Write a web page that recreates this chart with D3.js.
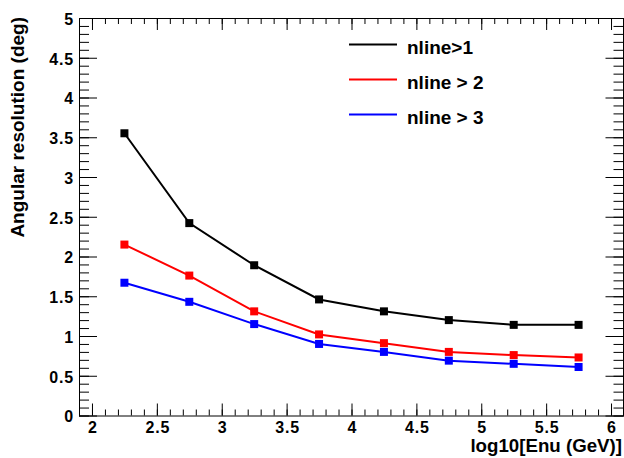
<!DOCTYPE html>
<html><head><meta charset="utf-8">
<script src="https://cdn.jsdelivr.net/npm/d3@7"></script>
<style>
html,body{margin:0;padding:0;background:#fff;}
svg{display:block;}
text{font-family:"Liberation Sans",Arial,Helvetica,sans-serif;font-weight:bold;fill:#000;}
</style></head>
<body>
<script>
const xValues = [2.25, 2.75, 3.25, 3.75, 4.25, 4.75, 5.25, 5.75];
const nline1 = [3.55, 2.42, 1.89, 1.46, 1.31, 1.20, 1.14, 1.14];
const nline2 = [2.15, 1.76, 1.31, 1.02, 0.91, 0.80, 0.76, 0.73];
const nline3 = [1.67, 1.43, 1.15, 0.90, 0.80, 0.69, 0.65, 0.61];
const seriesNames = ["nline>1", "nline > 2", "nline > 3"];
const seriesColors = ["#000000", "#ff0000", "#0000ff"];
const xMajorTicks = [2, 2.5, 3, 3.5, 4, 4.5, 5, 5.5, 6];
const yMajorTicks = [0, 0.5, 1, 1.5, 2, 2.5, 3, 3.5, 4, 4.5, 5];
const xTitle = "log10[Enu (GeV)]";
const yTitle = "Angular resolution (deg)";

const W = 624, H = 458;
const L = 79, R = 624, T = 18, B = 415.5;
const svg = d3.select("body").append("svg").attr("width", W).attr("height", H);

const x = d3.scaleLinear().domain([1.9, 6.1]).range([L, R]);
const y = d3.scaleLinear().domain([0, 5]).range([B, T]);

const xMinor = d3.range(19, 62).map(v => v / 10);
const yMinor = d3.range(0, 51).map(v => v / 10);

function styleAxis(g) {
  g.select(".domain").remove();
  g.selectAll("line").attr("stroke", "#000").attr("stroke-width", 1);
  g.selectAll("text").style("font-size", "16px").style("letter-spacing", "0.8px");
}
// bottom
svg.append("g").attr("transform", `translate(0,${B})`)
  .call(d3.axisBottom(x).tickValues(xMinor).tickSize(-6).tickFormat(""))
  .call(styleAxis).selectAll("text").remove();
const xl = svg.append("g").attr("transform", `translate(0,${B})`)
  .call(d3.axisBottom(x).tickValues(xMajorTicks).tickSize(-12).tickPadding(6).tickFormat(d3.format("")))
  .call(styleAxis);
xl.selectAll("text").attr("dx", "0.4px");
// top
svg.append("g").attr("transform", `translate(0,${T})`)
  .call(d3.axisTop(x).tickValues(xMinor).tickSize(-6).tickFormat(""))
  .call(styleAxis);
svg.append("g").attr("transform", `translate(0,${T})`)
  .call(d3.axisTop(x).tickValues(xMajorTicks).tickSize(-12).tickFormat(""))
  .call(styleAxis);
// left
svg.append("g").attr("transform", `translate(${L},0)`)
  .call(d3.axisLeft(y).tickValues(yMinor).tickSize(-10).tickFormat(""))
  .call(styleAxis);
const yl = svg.append("g").attr("transform", `translate(${L},0)`)
  .call(d3.axisLeft(y).tickValues(yMajorTicks).tickSize(-18).tickPadding(5).tickFormat(d3.format("")))
  .call(styleAxis);
yl.selectAll("text").attr("dy", "0.4em");
// right
svg.append("g").attr("transform", `translate(${R - 0.5},0)`)
  .call(d3.axisRight(y).tickValues(yMinor).tickSize(-10).tickFormat(""))
  .call(styleAxis);
svg.append("g").attr("transform", `translate(${R - 0.5},0)`)
  .call(d3.axisRight(y).tickValues(yMajorTicks).tickSize(-18).tickFormat(""))
  .call(styleAxis);

// frame
svg.append("rect").attr("x", L + 0.5).attr("y", T + 0.5).attr("width", R - L - 1).attr("height", B - T)
  .attr("fill", "none").attr("stroke", "#000").attr("stroke-width", 1);

// series
const allSeries = [nline1, nline2, nline3];
const line = d3.line().x((d, i) => x(xValues[i])).y(d => y(d));
allSeries.forEach((s, k) => {
  svg.append("path").datum(s).attr("d", line).attr("fill", "none")
    .attr("stroke", seriesColors[k]).attr("stroke-width", 2);
  svg.append("g").selectAll("rect").data(s).join("rect")
    .attr("x", (d, i) => x(xValues[i]) - 4).attr("y", d => y(d) - 4)
    .attr("width", 8).attr("height", 8).attr("fill", seriesColors[k]);
});

// legend
const legendY = [44.5, 79.5, 114.5];
seriesNames.forEach((n, k) => {
  svg.append("line").attr("x1", 349).attr("x2", 397).attr("y1", legendY[k]).attr("y2", legendY[k])
    .attr("stroke", seriesColors[k]).attr("stroke-width", 2);
  svg.append("text").attr("x", 407).attr("y", legendY[k] + 9).style("font-size", "19px").text(n);
});

// titles
svg.append("text").attr("x", 622).attr("y", 452).attr("text-anchor", "end").style("font-size", "18.7px").text(xTitle);
svg.append("text").attr("transform", "translate(24,17) rotate(-90)").attr("text-anchor", "end")
  .style("font-size", "19px").text(yTitle);
</script>
</body></html>
